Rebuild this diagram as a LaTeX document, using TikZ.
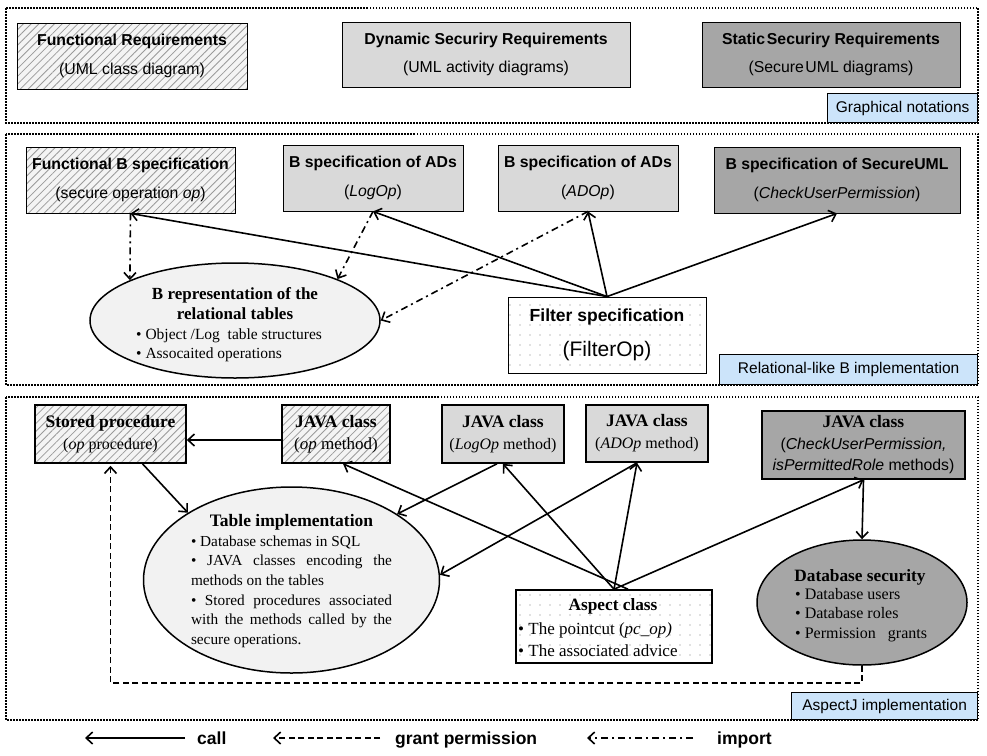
\documentclass[tikz,border=0pt]{standalone}
\usepackage{fontspec}
\setmainfont{Liberation Serif}
\newfontfamily\arialf{Liberation Sans}
\usetikzlibrary{arrows.meta,patterns.meta,shapes.geometric}
\definecolor{lgray}{HTML}{D9D9D9}
\definecolor{dgray}{HTML}{A6A6A6}
\definecolor{egray}{HTML}{F2F2F2}
\definecolor{lblue}{HTML}{CCE4FA}
\definecolor{hatchbg}{HTML}{F4F4F4}
\definecolor{hatchfg}{HTML}{9A9A9A}
\definecolor{dotfg}{HTML}{808080}
\tikzset{
  panel/.style={draw, line width=1.5pt, dash pattern=on 1.5pt off 1.5pt},
  tagbox/.style={draw, line width=0.7pt, fill=lblue, inner sep=0, font=\arialf\fontsize{15.5}{18}\selectfont},
  boxA/.style={draw, line width=0.9pt, inner sep=0, align=center, font=\arialf\fontsize{15.8}{28.5}\selectfont},
  boxB/.style={draw, line width=1.6pt, inner sep=0, align=center, font=\fontsize{16}{22}\selectfont},
  hatched/.style={preaction={fill=hatchbg}, pattern={Lines[angle=45,distance=5.5pt,line width=0.8pt]}, pattern color=hatchfg},
  dotfill/.style={preaction={fill=white}, pattern={Dots[distance=10pt,radius=0.7pt]}, pattern color=dotfg},
  ell/.style={draw, ellipse, line width=1.5pt, inner sep=0},
  tbold/.style={inner sep=0, align=center, font=\bfseries\fontsize{17.3}{20}\selectfont},
  tlist/.style={inner sep=0, align=left, anchor=west},
  callar/.style={line width=1.6pt, -{Straight Barb[length=6.5pt,width=12pt]}},
  grantar/.style={line width=1.6pt, dash pattern=on 6pt off 3.5pt, -{Straight Barb[length=6.5pt,width=12pt]}},
  importar/.style={line width=1.6pt, dash pattern=on 7pt off 4pt on 2pt off 4pt, -{Straight Barb[length=6.5pt,width=12pt]}},
  legtext/.style={inner sep=0, anchor=base west, font=\arialf\bfseries\fontsize{17.5}{20}\selectfont}
}
\begin{document}
\begin{tikzpicture}[x=1pt,y=-1pt]
\useasboundingbox (0,0) rectangle (987,755);
% ---------- Panel 1
\draw[panel] (6,8) rectangle (978,123);
\node[tagbox, minimum width=150, minimum height=29, anchor=south east] (tag1) at (978,123) {Graphical notations};
\node[boxA, hatched, minimum width=230, minimum height=66] (fr) at (132,56) {\textbf{Functional Requirements}\\(UML class diagram)};
\node[boxA, fill=lgray, minimum width=288, minimum height=65] (dyn) at (486,54.5) {\textbf{Dynamic Securiry Requirements}\\(UML activity diagrams)};
\node[boxA, fill=dgray, minimum width=258, minimum height=65] (stat) at (831,54.5) {\textbf{Static\hspace{0.12em}Securiry Requirements}\\(Secure\hspace{0.1em}UML diagrams)};
% ---------- Panel 2
\draw[panel] (6,134) rectangle (978,385);
\node[tagbox, minimum width=258, minimum height=30, anchor=south east] (tag2) at (978,385) {Relational-like B implementation};
\node[boxA, hatched, minimum width=209, minimum height=66] (fbs) at (130.5,180) {\textbf{Functional B specification}\\(secure operation \textit{op})};
\node[boxA, fill=lgray, minimum width=180, minimum height=66] (logop) at (373,178) {\textbf{B specification of ADs}\\(\textit{LogOp})};
\node[boxA, fill=lgray, minimum width=180, minimum height=66] (adop) at (588,178) {\textbf{B specification of ADs}\\(\textit{ADOp})};
\node[boxA, fill=dgray, minimum width=246, minimum height=66] (sec) at (837,180) {\textbf{B specification of SecureUML}\\(\textit{CheckUserPermission})};
\node[ell, fill=egray, minimum width=290, minimum height=115] (brep) at (235,320.5) {};
\node[tbold, font=\bfseries\fontsize{17}{20}\selectfont] (brepT) at (235,304) {B representation of the\\relational tables};
\node[tlist, font=\fontsize{15.5}{19}\selectfont] (brepL) at (136,345) {\textbullet\ Object /Log\ \ table structures\\\textbullet\ Assocaited operations};
\node[boxA, dotfill, minimum width=198, minimum height=76, font=\arialf\fontsize{17.5}{35}\selectfont] (filter) at (607,335) {\textbf{Filter specification}\\{\fontsize{21}{35}\selectfont(FilterOp)}};
% arrows panel 2
\draw[callar] (filter.north) -- (fbs.south);
\draw[callar] (filter.north) -- (logop.south);
\draw[callar] (filter.north) -- (adop.south);
\draw[callar] (filter.north) -- (sec.south);
\draw[importar] (fbs.south) -- (brep.159);
\draw[importar] (logop.south) -- (brep.22);
\draw[importar] (adop.south) -- (brep.east);
% ---------- Panel 3
\draw[panel] (6,397) rectangle (978,720);
\node[tagbox, minimum width=186, minimum height=27, anchor=south east] (tag3) at (978,720) {AspectJ implementation};
\node[boxB, hatched, minimum width=151, minimum height=58] (sp) at (110.5,434) {{\bfseries\fontsize{17.5}{22}\selectfont Stored procedure}\\(\textit{op} procedure)};
\node[boxB, hatched, minimum width=108, minimum height=58, font=\fontsize{17}{22}\selectfont] (jop) at (336,434) {{\bfseries\fontsize{17.5}{22}\selectfont JAVA class}\\(\textit{op} method)};
\node[boxB, fill=lgray, minimum width=122, minimum height=58] (jlog) at (503,434) {{\bfseries\fontsize{17.5}{22}\selectfont JAVA class}\\(\textit{LogOp} method)};
\node[boxB, fill=lgray, minimum width=122, minimum height=57] (jad) at (647,433.5) {{\bfseries\fontsize{17.5}{22}\selectfont JAVA class}\\(\textit{ADOp} method)};
\node[boxB, fill=dgray, minimum width=203, minimum height=68, font=\fontsize{16}{21.5}\selectfont] (jcup) at (863.5,445) {{\bfseries\fontsize{17.5}{21.5}\selectfont JAVA class}\\{\arialf\fontsize{15.8}{21}\selectfont(\textit{CheckUserPermission,}}\\{\arialf\fontsize{15.8}{21}\selectfont\textit{isPermittedRole} methods)}};
\node[ell, fill=egray, minimum width=296, minimum height=186] (table) at (291.5,580) {};
\node[inner sep=0, align=left, font=\fontsize{15.3}{19.6}\selectfont] (tableT) at (291.5,581) {\makebox[201pt][c]{\bfseries\fontsize{17.5}{19.6}\selectfont Table implementation}\\
\textbullet\ Database schemas in SQL\\
\makebox[201pt][s]{\textbullet\ JAVA classes encoding the}\\
methods on the tables\\
\makebox[201pt][s]{\textbullet\ Stored procedures associated}\\
\makebox[201pt][s]{with the methods called by the}\\
secure operations.};
\node[ell, fill=dgray, minimum width=210, minimum height=125] (dbsec) at (862,602.5) {};
\node[tbold] (dbsecT) at (860,577) {Database security};
\node[tlist, font=\fontsize{16}{19.5}\selectfont] (dbsecL) at (795,615) {\textbullet\ Database users\\\textbullet\ Database roles\\\textbullet\ Permission\ \ \ grants};
\node[draw, line width=1.6pt, dotfill, minimum width=196, minimum height=73] (aspect) at (614,626.5) {};
\node[tbold] (aspT) at (613,606) {Aspect class};
\node[tlist, font=\fontsize{17}{22}\selectfont] (aspL) at (518,639.5) {\textbullet\ The pointcut (\textit{pc\_op)}\\\textbullet\ The associated advice};
% arrows panel 3
\draw[callar] ([yshift=-6pt]jop.west) -- ([yshift=-6pt]sp.east);
\draw[callar] ([xshift=32pt]sp.south) -- (table.147);
\draw[callar] ([xshift=-6pt]jlog.south) -- (table.32);
\draw[callar] ([xshift=-10pt]jad.south) -- (table.2);
\draw[callar] ([xshift=14pt]aspect.north) -- ([xshift=7pt]jop.south);
\draw[callar] (aspect.north) -- (jlog.south);
\draw[callar] (aspect.north) -- ([xshift=-10pt]jad.south);
\draw[callar] (aspect.north) -- (jcup.south);
\draw[callar] (jcup.south) -- (dbsec.north);
\coordinate (g) at (0,683);
\draw[grantar] (dbsec.south) -- (dbsec.south |- g) -| ([yshift=-2pt]sp.south);
% ---------- Legend
\coordinate (l1s) at (185,738); \coordinate (l1e) at (85,738);
\coordinate (l2s) at (380,738); \coordinate (l2e) at (273,738);
\coordinate (l3s) at (693,738); \coordinate (l3e) at (587,738);
\draw[callar] (l1s) -- (l1e);
\draw[grantar] (l2s) -- (l2e);
\draw[importar] (l3s) -- (l3e);
\node[legtext] (lcall) at (197,744) {call};
\node[legtext] (lgrant) at (395,744) {grant permission};
\node[legtext] (limport) at (717,744) {import};
\end{tikzpicture}
\end{document}
